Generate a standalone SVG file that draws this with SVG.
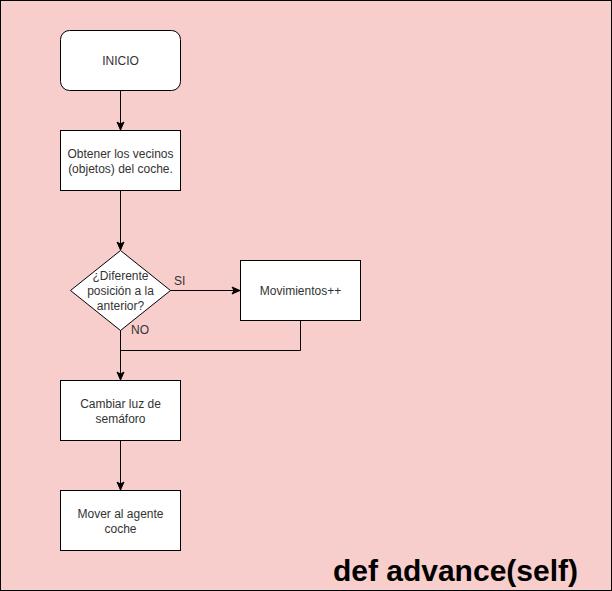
<svg xmlns="http://www.w3.org/2000/svg" width="612" height="591" viewBox="0 0 612 591">
<style>
.n{fill:#ffffff;stroke:#000000;stroke-width:1}
.t{font-family:"Liberation Sans",Arial,sans-serif;font-size:12px;fill:#333333;text-anchor:middle}
.l{font-family:"Liberation Sans",Arial,sans-serif;font-size:12px;fill:#333333}
.c{fill:none;stroke:#000000;stroke-width:1}
</style>
<defs>
<marker id="a" markerWidth="10" markerHeight="10" refX="8" refY="5" orient="auto" markerUnits="userSpaceOnUse">
<path d="M1,1.5 L9,5 L1,8.5 L3,5 Z" fill="#000000" stroke="#000000" stroke-width="1"/>
</marker>
</defs>
<rect x="0.5" y="0.5" width="611" height="590" fill="#f8cecc" stroke="#000000" stroke-width="1"/>
<g id="connectors">
<path class="c" d="M120.5,90 L120.5,129" marker-end="url(#a)"/>
<path class="c" d="M120.5,190 L120.5,249" marker-end="url(#a)"/>
<path class="c" d="M170,290.5 L239,290.5" marker-end="url(#a)"/>
<path class="c" d="M120.5,330 L120.5,379" marker-end="url(#a)"/>
<path class="c" d="M300.5,320 L300.5,350.5 L120.5,350.5"/>
<path class="c" d="M120.5,440 L120.5,489" marker-end="url(#a)"/>
<text class="l" x="174" y="285">SI</text>
<text class="l" x="131" y="334">NO</text>
</g>
<g id="inicio">
<rect class="n" x="60.5" y="30.5" width="120" height="60" rx="9" ry="9"/>
<text class="t" x="120.5" y="65">INICIO</text>
</g>
<g id="obtener">
<rect class="n" x="60.5" y="130.5" width="120" height="60"/>
<text class="t" x="120.5" y="158">Obtener los vecinos</text>
<text class="t" x="120.5" y="173">(objetos) del coche.</text>
</g>
<g id="decision">
<path class="n" d="M120.5,250.5 L170.5,290.5 L120.5,330.5 L70.5,290.5 Z"/>
<text class="t" x="120.5" y="280">¿Diferente</text>
<text class="t" x="120.5" y="295">posición a la</text>
<text class="t" x="120.5" y="310">anterior?</text>
</g>
<g id="movimientos">
<rect class="n" x="240.5" y="260.5" width="120" height="60"/>
<text class="t" x="300.5" y="295">Movimientos++</text>
</g>
<g id="cambiar">
<rect class="n" x="60.5" y="380.5" width="120" height="60"/>
<text class="t" x="120.5" y="408">Cambiar luz de</text>
<text class="t" x="120.5" y="423">semáforo</text>
</g>
<g id="mover">
<rect class="n" x="60.5" y="490.5" width="120" height="60"/>
<text class="t" x="120.5" y="518">Mover al agente</text>
<text class="t" x="120.5" y="533">coche</text>
</g>
<text x="578" y="581" font-family="'Liberation Sans',Arial,sans-serif" font-size="30" font-weight="bold" fill="#000000" text-anchor="end">def advance(self)</text>
</svg>
